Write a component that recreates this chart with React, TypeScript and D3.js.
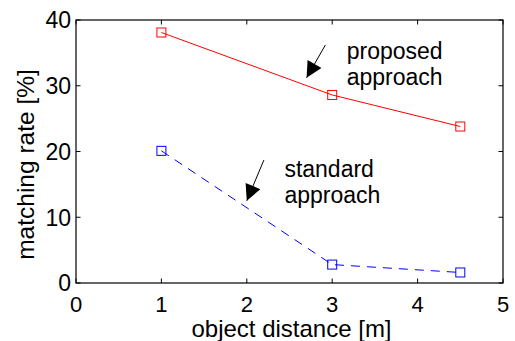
import React, { useEffect, useRef } from "react";
import * as d3 from "d3";

const distances = [1, 3, 4.5];
const proposed = [38.1, 28.6, 23.8];
const standard = [20.1, 2.8, 1.6];
const xTicks = [0, 1, 2, 3, 4, 5];
const yTicks = [0, 10, 20, 30, 40];

// annotations in data units: [tailX, tailY, headX, headY]
const arrows = [
  [2.92, 36.2, 2.7, 31.2],
  [2.2, 18.7, 2.0, 12.5],
];
const labels = [
  { x: 3.17, y: 34.1, lines: ["proposed", "approach"] },
  { x: 2.44, y: 16.1, lines: ["standard", "approach"] },
];

const W = 515;
const H = 341;
const m = { top: 20, right: 12, bottom: 58, left: 76 };
const font = "'Liberation Sans', Arial, sans-serif";
const fs = 23;

const App = () => {
  const ref = useRef(null);

  useEffect(() => {
    const svg = d3.select(ref.current);
    svg.selectAll("*").remove();

    const x = d3.scaleLinear().domain([0, 5]).range([m.left, W - m.right]);
    const y = d3.scaleLinear().domain([0, 40]).range([H - m.bottom, m.top]);
    const x0 = x.range()[0], x1 = x.range()[1];
    const y0 = y.range()[0], y1 = y.range()[1];

    svg
      .append("defs")
      .append("marker")
      .attr("id", "head")
      .attr("viewBox", "0 0 10 10")
      .attr("refX", 10)
      .attr("refY", 5)
      .attr("markerWidth", 20)
      .attr("markerHeight", 16)
      .attr("markerUnits", "userSpaceOnUse")
      .attr("orient", "auto")
      .append("path")
      .attr("d", "M0,0L10,5L0,10Z")
      .attr("fill", "black");

    const line = d3
      .line()
      .x((d) => x(d[0]))
      .y((d) => y(d[1]));

    const series = [
      { vals: proposed, color: "#ff0000", dash: null },
      { vals: standard, color: "#0000ff", dash: "9,7" },
    ];

    series.forEach((s) => {
      const pts = distances.map((d, i) => [d, s.vals[i]]);
      svg
        .append("path")
        .attr("d", line(pts))
        .attr("fill", "none")
        .attr("stroke", s.color)
        .attr("stroke-width", 1)
        .attr("stroke-dasharray", s.dash);
      svg
        .selectAll(null)
        .data(pts)
        .enter()
        .append("rect")
        .attr("x", (d) => x(d[0]) - 4.5)
        .attr("y", (d) => y(d[1]) - 4.5)
        .attr("width", 9)
        .attr("height", 9)
        .attr("fill", "none")
        .attr("stroke", s.color)
        .attr("stroke-width", 1);
    });

    // box
    svg
      .append("rect")
      .attr("x", x0)
      .attr("y", y1)
      .attr("width", x1 - x0)
      .attr("height", y0 - y1)
      .attr("fill", "none")
      .attr("stroke", "black")
      .attr("stroke-width", 1.2);

    const tick = 4.5;
    xTicks.forEach((t) => {
      svg.append("line").attr("x1", x(t)).attr("x2", x(t)).attr("y1", y0).attr("y2", y0 - tick).attr("stroke", "black");
      svg.append("line").attr("x1", x(t)).attr("x2", x(t)).attr("y1", y1).attr("y2", y1 + tick).attr("stroke", "black");
      svg
        .append("text")
        .attr("x", x(t))
        .attr("y", y0 + 29)
        .attr("text-anchor", "middle")
        .attr("font-family", font)
        .attr("font-size", 22)
        .text(t);
    });
    yTicks.forEach((t) => {
      svg.append("line").attr("x1", x0).attr("x2", x0 + tick).attr("y1", y(t)).attr("y2", y(t)).attr("stroke", "black");
      svg.append("line").attr("x1", x1).attr("x2", x1 - tick).attr("y1", y(t)).attr("y2", y(t)).attr("stroke", "black");
      svg
        .append("text")
        .attr("x", x0 - 5)
        .attr("y", y(t) + 8.3)
        .attr("text-anchor", "end")
        .attr("font-family", font)
        .attr("font-size", fs)
        .text(t);
    });

    svg
      .append("text")
      .attr("x", (x0 + x1) / 2 + 2)
      .attr("y", H - 4)
      .attr("text-anchor", "middle")
      .attr("font-family", font)
      .attr("font-size", 24)
      .text("object distance [m]");
    svg
      .append("text")
      .attr("transform", `translate(34,${(y0 + y1) / 2 + 13}) rotate(-90)`)
      .attr("text-anchor", "middle")
      .attr("font-family", font)
      .attr("font-size", 24.5)
      .text("matching rate [%]");

    arrows.forEach((a) => {
      svg
        .append("line")
        .attr("x1", x(a[0]))
        .attr("y1", y(a[1]))
        .attr("x2", x(a[2]))
        .attr("y2", y(a[3]))
        .attr("stroke", "black")
        .attr("stroke-width", 1)
        .attr("marker-end", "url(#head)");
    });

    labels.forEach((l) => {
      const t = svg
        .append("text")
        .attr("font-family", font)
        .attr("font-size", fs)
        .attr("x", x(l.x))
        .attr("y", y(l.y));
      l.lines.forEach((s, i) => {
        t.append("tspan").attr("x", x(l.x)).attr("dy", i === 0 ? 0 : 26).text(s);
      });
    });
  }, []);

  return (
    <svg
      ref={ref}
      width={W}
      height={H}
      style={{ position: "absolute", left: 0, top: 0, background: "white" }}
    />
  );
};

export default App;
